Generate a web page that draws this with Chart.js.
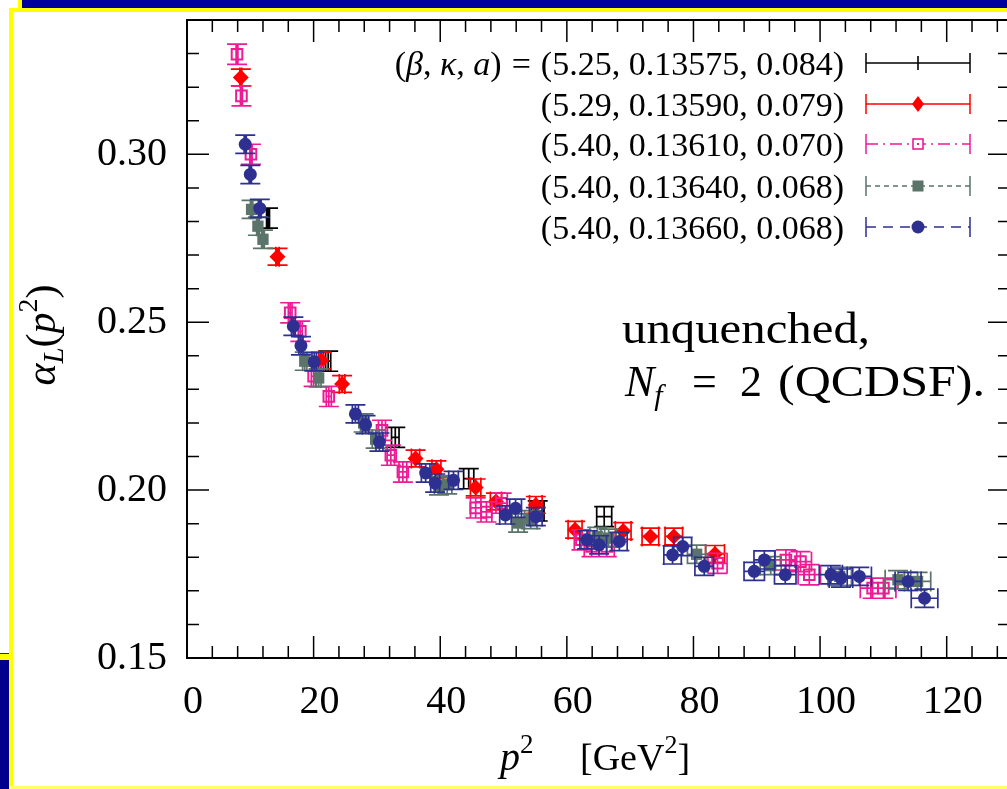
<!DOCTYPE html>
<html>
<head>
<meta charset="utf-8">
<script src="https://cdn.jsdelivr.net/npm/chart.js@4.4.0/dist/chart.umd.min.js"></script>
<style>
html, body { margin: 0; padding: 0; background: #fff; overflow: hidden; }
#wrap { position: relative; width: 1007px; height: 789px; overflow: hidden; background: #fff; }
#alphaChart { position: absolute; left: 0; top: 0; }
.deco { position: absolute; }
</style>
</head>
<body>
<div id="wrap">
  <canvas id="alphaChart" width="1020" height="789"></canvas>
  <!-- slide frame -->
  <div class="deco" style="left:22px;top:0;width:985px;height:8px;background:#00009c"></div>
  <div class="deco" style="left:18px;top:0;width:4px;height:9px;background:#ffff00"></div>
  <div class="deco" style="left:9px;top:8px;width:998px;height:4px;background:#ffff00"></div>
  <div class="deco" style="left:9px;top:8px;width:4px;height:781px;background:#ffff00"></div>
  <div class="deco" style="left:0;top:653px;width:9px;height:6px;background:#ffff00;border-top:1px solid #333"></div>
  <div class="deco" style="left:0;top:660px;width:9px;height:129px;background:#00008c"></div>
  <div class="deco" style="left:9px;top:786px;width:998px;height:3px;background:#ffff66"></div>
</div>
<script>
/* data: p^2 [GeV^2] and alpha_L(p^2) */
const seriesLabels = ['(5.25, 0.13575, 0.084)', '(5.29, 0.13590, 0.079)', '(5.40, 0.13610, 0.070)',
                      '(5.40, 0.13640, 0.068)', '(5.40, 0.13660, 0.068)'];

const blackX = [12.8, 22.3, 32.9, 44.5, 55.4, 65.9];
const blackY = [0.2810, 0.2384, 0.2157, 0.2034, 0.1938, 0.1921];

const redX = [8.5, 14.3, 21.2, 24.5, 36.1, 39.4, 45.6, 48.8, 55.1, 61.3, 68.9, 73.2, 76.9, 83.4];
const redY = [0.3229, 0.2695, 0.2386, 0.2316, 0.2094, 0.2062, 0.2008, 0.1966, 0.1956, 0.1882, 0.1878, 0.1862, 0.1862, 0.1810];

const pinkX = [7.9, 8.6, 10.1, 16.3, 17.9, 20.0, 22.4, 30.8, 32.2, 34.1, 45.6, 47.3, 49.7, 62.3, 63.9, 66.3,
               83.8, 94.6, 96.9, 98.3, 108.3, 110.0];
const pinkY = [0.3298, 0.3174, 0.3000, 0.2528, 0.2473, 0.2339, 0.2279, 0.2178, 0.2104, 0.2054, 0.1947, 0.1935,
               0.1961, 0.1852, 0.1832, 0.1832, 0.1782, 0.1792, 0.1787, 0.1748, 0.1708, 0.1708];

const greyX = [10.2, 11.2, 12.0, 18.6, 20.8, 27.9, 29.8, 39.8, 41.1, 52.3, 54.3, 64.8, 66.6, 80.5, 92.2, 103.1, 112.3, 115.4];
const greyY = [0.2836, 0.2786, 0.2747, 0.2384, 0.2334, 0.2200, 0.2152, 0.2013, 0.2016, 0.1902, 0.1912, 0.1862,
               0.1857, 0.1809, 0.1775, 0.1743, 0.1733, 0.1728];

const blueX = [9.2, 10.0, 11.5, 16.8, 18.0, 20.1, 26.6, 28.2, 30.4, 37.7, 39.2, 42.1, 50.3, 51.9, 55.1,
               63.2, 65.1, 68.3, 76.7, 78.3, 81.7, 89.6, 91.2, 94.5, 101.7, 103.3, 106.2, 113.9, 116.5];
const blueY = [0.3030, 0.2940, 0.2839, 0.2488, 0.2430, 0.2382, 0.2227, 0.2195, 0.2143, 0.2051, 0.2021, 0.2029,
               0.1926, 0.1946, 0.1921, 0.1852, 0.1837, 0.1847, 0.1807, 0.1832, 0.1773, 0.1758, 0.1792, 0.1748,
               0.1748, 0.1738, 0.1743, 0.1728, 0.1678];

// error sizes: y error per series, x error relative to p^2
const yErrs = [0.0030, 0.0025, 0.0030, 0.0027, 0.0027];
const relXErr = 0.018;

const xTickValues = [0, 20, 40, 60, 80, 100, 120];
const yTickValues = [0.15, 0.20, 0.25, 0.30];

const FONT = '"Liberation Serif", "Times New Roman", serif';
const colors = ['#000000', '#ff0000', '#ee1b96', '#5b7469', '#2d3091'];
const dashes = [[], [], [12, 5, 2, 5], [5, 4], [10, 7]];

const series = [
  { x: blackX, y: blackY, style: 'circle', r: 0, fill: colors[0] },
  { x: redX, y: redY, style: 'rectRot', r: 8, fill: colors[1] },
  { x: pinkX, y: pinkY, style: 'rect', r: 7.5, fill: 'rgba(0,0,0,0)' },
  { x: greyX, y: greyY, style: 'rect', r: 8, fill: colors[3] },
  { x: blueX, y: blueY, style: 'circle', r: 6.5, fill: colors[4] }
];

/* error bars drawn right before each dataset, gnuplot xyerrorbars style */
const errorBars = {
  id: 'errorBars',
  beforeDatasetDraw(chart, args) {
    const s = series[args.index];
    const xs = chart.scales.x, ys = chart.scales.y, ctx = chart.ctx;
    const cap = 10;
    ctx.save();
    ctx.strokeStyle = colors[args.index];
    ctx.lineWidth = 1.7;
    ctx.beginPath();
    s.x.forEach((xv, k) => {
      const px = xs.getPixelForValue(xv), py = ys.getPixelForValue(s.y[k]);
      const dx = xs.getPixelForValue(xv * (1 + relXErr)) - px;
      const dy = py - ys.getPixelForValue(s.y[k] + yErrs[args.index]);
      ctx.moveTo(px - dx, py); ctx.lineTo(px + dx, py);
      ctx.moveTo(px, py - dy); ctx.lineTo(px, py + dy);
      ctx.moveTo(px - dx, py - cap); ctx.lineTo(px - dx, py + cap);
      ctx.moveTo(px + dx, py - cap); ctx.lineTo(px + dx, py + cap);
      ctx.moveTo(px - cap, py - dy); ctx.lineTo(px + cap, py - dy);
      ctx.moveTo(px - cap, py + dy); ctx.lineTo(px + cap, py + dy);
    });
    ctx.stroke();
    ctx.restore();
  }
};

/* box with inward ticks on all four sides */
const frame = {
  id: 'frame',
  beforeDatasetsDraw(chart) {
    const { ctx, chartArea: a, scales: { x, y } } = chart;
    ctx.save();
    ctx.strokeStyle = '#000';
    ctx.lineWidth = 1.5;
    ctx.beginPath();
    for (let v = 0; v <= 130; v += 4) {
      const px = x.getPixelForValue(v), len = v % 20 === 0 ? 22 : 12;
      ctx.moveTo(px, a.bottom); ctx.lineTo(px, a.bottom - len);
      ctx.moveTo(px, a.top); ctx.lineTo(px, a.top + len);
    }
    for (let k = 15; k <= 34; k++) {
      const py = y.getPixelForValue(k / 100), len = k % 5 === 0 ? 22 : 12;
      ctx.moveTo(a.left, py); ctx.lineTo(a.left + len, py);
      ctx.moveTo(a.right, py); ctx.lineTo(a.right - len, py);
    }
    ctx.stroke();
    ctx.lineWidth = 2;
    ctx.strokeRect(a.left, a.top, a.right - a.left, a.bottom - a.top);
    ctx.restore();
  }
};

// text made of runs: [text, font, dy, extraSpace]
function runsWidth(ctx, runs) {
  let w = 0;
  runs.forEach(r => { ctx.font = r[1]; w += ctx.measureText(r[0]).width + (r[3] || 0); });
  return w;
}
function drawRuns(ctx, runs, x, y, sx) {
  ctx.save();
  ctx.translate(x, y);
  ctx.scale(sx || 1, 1);
  let cx = 0;
  runs.forEach(r => {
    ctx.font = r[1];
    ctx.fillText(r[0], cx, r[2] || 0);
    cx += ctx.measureText(r[0]).width + (r[3] || 0);
  });
  ctx.restore();
}
const up = s => s + 'px ' + FONT;
const it = s => 'italic ' + s + 'px ' + FONT;

function drawMarker(ctx, i, x, y) {
  ctx.save();
  ctx.fillStyle = colors[i];
  ctx.strokeStyle = colors[i];
  ctx.lineWidth = 1.6;
  ctx.beginPath();
  if (i === 0) {
    ctx.moveTo(x, y - 7); ctx.lineTo(x, y + 7); ctx.stroke();
  } else if (i === 1) {
    ctx.moveTo(x, y - 8); ctx.lineTo(x + 6, y); ctx.lineTo(x, y + 8); ctx.lineTo(x - 6, y); ctx.closePath(); ctx.fill();
  } else if (i === 2) {
    ctx.fillStyle = '#fff';
    ctx.fillRect(x - 5, y - 5, 10, 10);
    ctx.strokeRect(x - 5, y - 5, 10, 10);
    ctx.fillStyle = colors[i];
    ctx.fillRect(x - 1, y - 1, 2, 2);
  } else if (i === 3) {
    ctx.fillRect(x - 5.5, y - 5.5, 11, 11);
  } else {
    ctx.arc(x, y, 6.5, 0, Math.PI * 2); ctx.fill();
  }
  ctx.restore();
}

const texts = {
  id: 'texts',
  afterDraw(chart) {
    const ctx = chart.ctx;
    ctx.save();
    ctx.fillStyle = '#000';
    ctx.textBaseline = 'alphabetic';

    // legend
    const rowY = [63, 104, 144, 186, 227];
    const textRight = 844;
    seriesLabels.forEach((lab, i) => {
      let runs = [[lab, up(34)]];
      if (i === 0) {
        runs = [['(', up(34)], ['\u03b2', it(34)], [', ', up(34)], ['\u03ba', it(34)], [', ', up(34)],
                ['a', it(34)], [')', up(34), 0, 10], ['=', up(34), 0, 10], [lab, up(34)]];
      }
      const w = runsWidth(ctx, runs);
      drawRuns(ctx, runs, textRight - w, rowY[i] + 12);

      const x0 = 866, x1 = 970, xm = 918, y = rowY[i];
      ctx.save();
      ctx.strokeStyle = colors[i];
      ctx.lineWidth = 1.5;
      ctx.setLineDash(dashes[i]);
      ctx.beginPath(); ctx.moveTo(x0, y); ctx.lineTo(x1, y); ctx.stroke();
      ctx.setLineDash([]);
      ctx.beginPath();
      ctx.moveTo(x0, y - 10); ctx.lineTo(x0, y + 10);
      ctx.moveTo(x1, y - 10); ctx.lineTo(x1, y + 10);
      ctx.stroke();
      ctx.restore();
      drawMarker(ctx, i, xm, y);
    });

    // annotation
    const l1 = [['unquenched,', up(44)]];
    drawRuns(ctx, l1, 622, 343, 248 / runsWidth(ctx, l1));
    drawRuns(ctx, [['N', it(44)], ['f', it(30), 9]], 625, 396);
    drawRuns(ctx, [['=', up(44)]], 692, 396);
    drawRuns(ctx, [['2', up(44)]], 740, 396);
    const l2 = [['(QCDSF).', up(44)]];
    drawRuns(ctx, l2, 778, 396, 207 / runsWidth(ctx, l2));

    // x title
    drawRuns(ctx, [['p', it(40)], ['2', up(27), -17]], 500, 770);
    drawRuns(ctx, [['[GeV', up(38)], ['2', up(26), -17], [']', up(38)]], 580, 770);

    // y title, rotated
    const yt = [['\u03b1', it(42)], ['L', it(29), 8], ['(', up(42)], ['p', it(42)], ['2', up(28), -18], [')', up(42)]];
    ctx.translate(55, 335);
    ctx.rotate(-Math.PI / 2);
    drawRuns(ctx, yt, -runsWidth(ctx, yt) / 2, 0);
    ctx.restore();
  }
};

function noPad(s) { s.paddingTop = 0; s.paddingBottom = 0; s.paddingLeft = 0; s.paddingRight = 0; }

const chart = new Chart(document.getElementById('alphaChart'), {
  type: 'scatter',
  data: {
    datasets: series.map((s, i) => ({
      label: seriesLabels[i],
      data: s.x.map((v, k) => ({ x: v, y: s.y[k] })),
      showLine: false,
      pointStyle: s.style,
      pointRadius: s.r,
      backgroundColor: s.fill,
      borderColor: colors[i],
      borderWidth: i === 2 ? 2 : 0,
      order: 5 - i
    }))
  },
  options: {
    responsive: false,
    animation: false,
    events: [],
    layout: { padding: { left: 0, top: 20, right: 10, bottom: 0 } },
    plugins: { legend: { display: false }, tooltip: { enabled: false } },
    scales: {
      x: {
        type: 'linear', min: 0, max: 130,
        afterBuildTicks(s) { s.ticks = xTickValues.map(v => ({ value: v })); },
        afterFit(s) { s.height = 131; noPad(s); },
        grid: { display: false, drawTicks: false },
        border: { display: false },
        ticks: { font: { family: FONT, size: 40 }, color: '#000', padding: 20, labelOffset: 6, maxRotation: 0, autoSkip: false }
      },
      y: {
        type: 'linear', min: 0.15, max: 0.34,
        afterBuildTicks(s) { s.ticks = yTickValues.map(v => ({ value: v })); },
        afterFit(s) { s.width = 187; noPad(s); },
        grid: { display: false, drawTicks: false },
        border: { display: false },
        ticks: { font: { family: FONT, size: 40 }, color: '#000', padding: 20, callback: v => v.toFixed(2) }
      }
    }
  },
  plugins: [frame, errorBars, texts]
});
</script>
</body>
</html>
